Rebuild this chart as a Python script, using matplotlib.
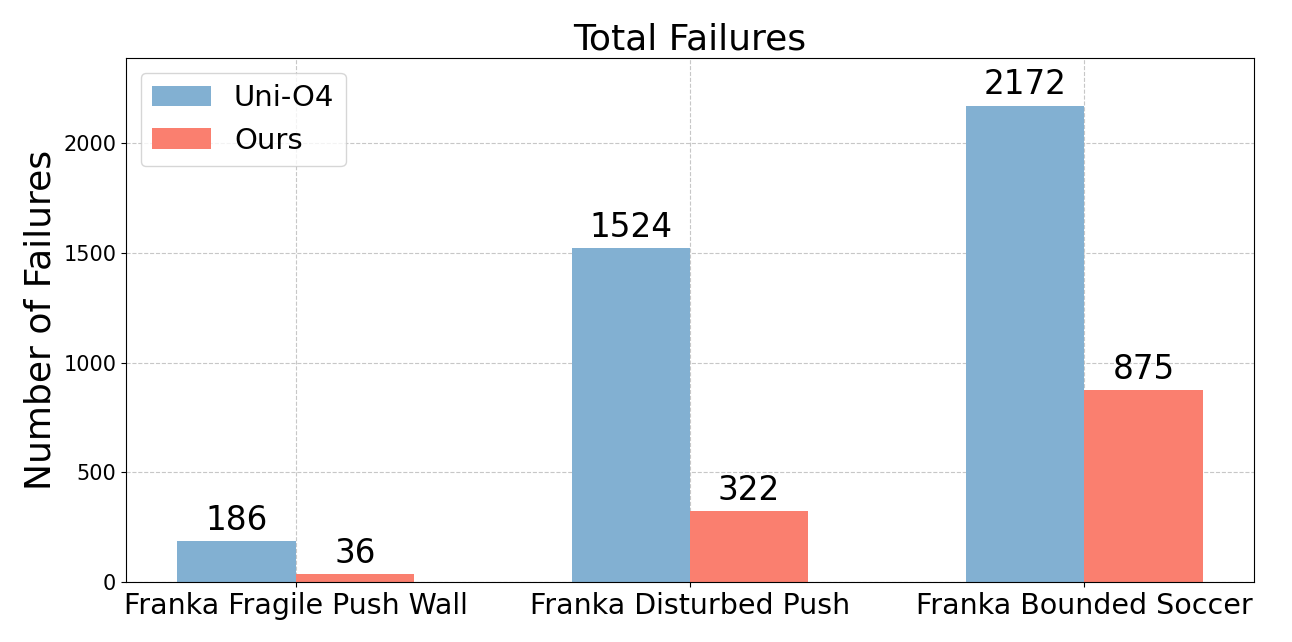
import numpy as np
import matplotlib.pyplot as plt

# data
tasks = ["Franka Fragile Push Wall", "Franka Disturbed Push", "Franka Bounded Soccer"]
uni_o4 = [186, 1524, 2172]
ours = [36, 322, 875]

x = np.arange(len(tasks))
width = 0.3

fig = plt.figure(figsize=(12.92, 6.42), dpi=100)
ax = fig.add_axes([0.0975, 0.0935, 0.873, 0.8162])

b1 = ax.bar(x - width / 2, uni_o4, width, label="Uni-O4", color="#82B0D2")
b2 = ax.bar(x + width / 2, ours, width, label="Ours", color="#FA7F6F")

ax.bar_label(b1, fontsize=23.5, padding=3)
ax.bar_label(b2, fontsize=23.5, padding=3)

ax.set_xticks(x)
ax.set_xticklabels(tasks, fontsize=20.5)
ax.tick_params(axis="y", labelsize=15)
ax.set_ylabel("Number of Failures", fontsize=26)
ax.set_title("Total Failures", fontsize=26)
ax.set_ylim(0, max(uni_o4) * 1.1)
ax.grid(True, linestyle="--", alpha=0.7)
ax.set_axisbelow(True)
ax.legend(loc="upper left", fontsize=21)

plt.savefig("out.png", dpi=100)
